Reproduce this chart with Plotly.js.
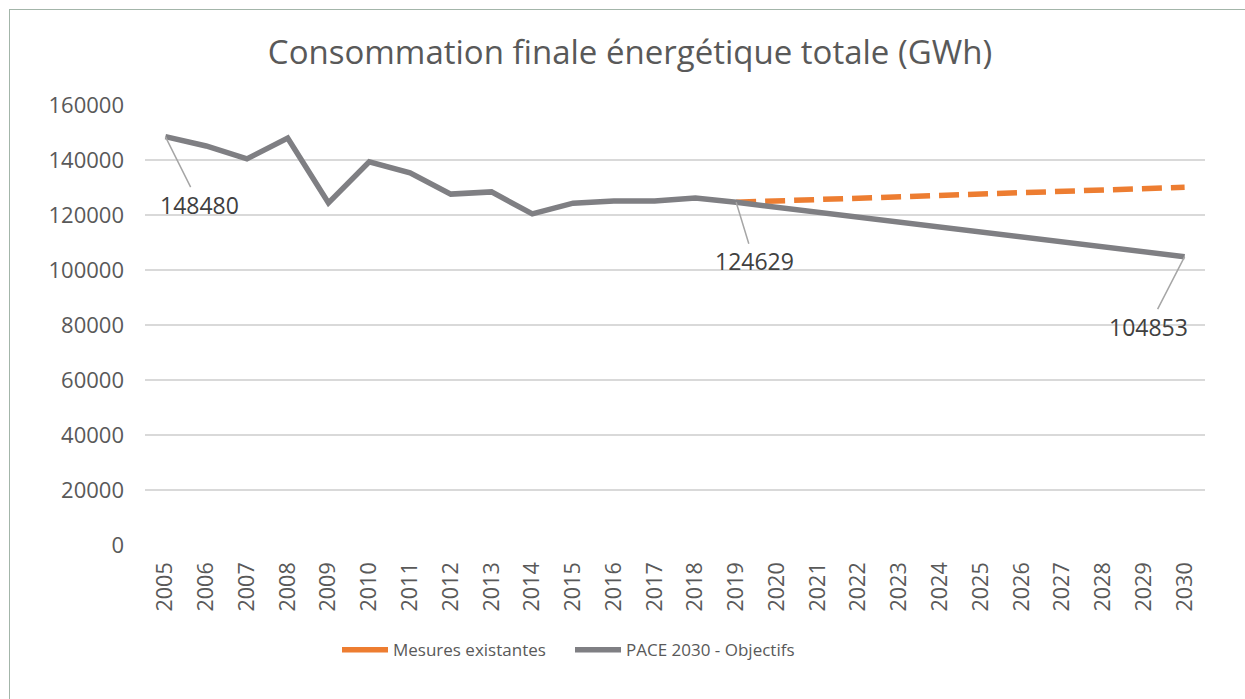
<!DOCTYPE html>
<html>
<head>
<meta charset="utf-8">
<script src="https://cdn.plot.ly/plotly-3.0.1.min.js"></script>
<style>
  html, body { margin: 0; padding: 0; background: #ffffff; overflow: hidden; }
  #chart { width: 1245px; height: 699px; }
  #frame { position: absolute; left: 9px; top: 9px; width: 1300px; height: 800px;
           border-left: 1.5px solid #a3b5a9; border-top: 1.5px solid #a3b5a9; pointer-events: none; }
</style>
</head>
<body>
<div id="chart"></div>
<div id="frame"></div>
<script>
const years = [2005,2006,2007,2008,2009,2010,2011,2012,2013,2014,2015,2016,2017,2018,2019,
               2020,2021,2022,2023,2024,2025,2026,2027,2028,2029,2030];
const paceValues = [148480,145100,140400,148000,124400,139300,135300,127600,128400,120400,124300,125100,125100,126200,124629,
                    122800,121000,119200,117400,115600,113800,112000,110200,108400,106600,104853];
const mesuresYears = [2019,2020,2021,2022,2023,2024,2025,2026,2027,2028,2029,2030];
const mesuresValues = [124629,125100,125600,126100,126600,127100,127600,128100,128600,129100,129600,130100];
const seriesNames = ["Mesures existantes", "PACE 2030 - Objectifs"];
const labelYears = [2005, 2019, 2030];
const labelValues = [148480, 124629, 104853];
const yTicks = [0,20000,40000,60000,80000,100000,120000,140000,160000];

const orange = "#ED7D31";
const grey = "#7f7f83";
const font = "'Open Sans', 'Liberation Sans', sans-serif";

const traces = [
  { x: mesuresYears, y: mesuresValues, type: "scatter", mode: "lines", showlegend: false,
    line: { color: orange, width: 5.5, dash: "20px,9px" }, hoverinfo: "skip" },
  { x: years, y: paceValues, type: "scatter", mode: "lines", showlegend: false,
    line: { color: grey, width: 5.5 }, hoverinfo: "skip" },
  { x: [null], y: [null], type: "scatter", mode: "lines", name: seriesNames[0],
    line: { color: orange, width: 5.5 } },
  { x: [null], y: [null], type: "scatter", mode: "lines", name: seriesNames[1],
    line: { color: grey, width: 5.5 } }
];

const offsets = [[34, 68], [18, 59], [-36, 70]];
const annotations = labelYears.map((yr, i) => ({
  x: yr, y: labelValues[i], xref: "x", yref: "y",
  text: String(labelValues[i]),
  showarrow: true, arrowhead: 0, arrowwidth: 1.5, arrowcolor: "#a6a6a6",
  ax: offsets[i][0], ay: offsets[i][1], standoff: 0,
  font: { family: font, size: 23, color: "#404040" }
}));

const layout = {
  width: 1245, height: 699,
  margin: { l: 145, r: 40, t: 105, b: 154 },
  paper_bgcolor: "rgba(0,0,0,0)", plot_bgcolor: "#ffffff",
  title: { text: "Consommation finale énergétique totale (GWh)",
           font: { family: font, size: 33, color: "#595959" },
           x: 630/1245, xref: "container", xanchor: "center", y: 1 - 52/699, yanchor: "middle", yref: "container" },
  xaxis: {
    type: "linear", range: [2004.5, 2030.5], tickmode: "array", tickvals: years, ticktext: years.map(String),
    tickangle: -90, showgrid: false, zeroline: false, showline: false, ticks: "",
    ticklabelstandoff: 12,
    tickfont: { family: font, size: 21.5, color: "#595959" }, fixedrange: true
  },
  yaxis: {
    range: [0, 160000], tickmode: "array", tickvals: yTicks, ticktext: yTicks.map(String),
    showgrid: true, gridcolor: "#d9d9d9", gridwidth: 1.5, zeroline: false, showline: false, ticks: "",
    ticklabelstandoff: 20,
    tickfont: { family: font, size: 22, color: "#595959" }, fixedrange: true
  },
  legend: { orientation: "h", x: (342 - 150) / 1060, xanchor: "left", y: -0.239, yanchor: "middle",
            font: { family: font, size: 17, color: "#595959" }, itemwidth: 46, traceorder: "normal",
            entrywidth: 172, entrywidthmode: "pixels" },
  annotations: annotations,
  showlegend: true
};

Plotly.newPlot("chart", traces, layout, { staticPlot: true, displayModeBar: false });
</script>
</body>
</html>
